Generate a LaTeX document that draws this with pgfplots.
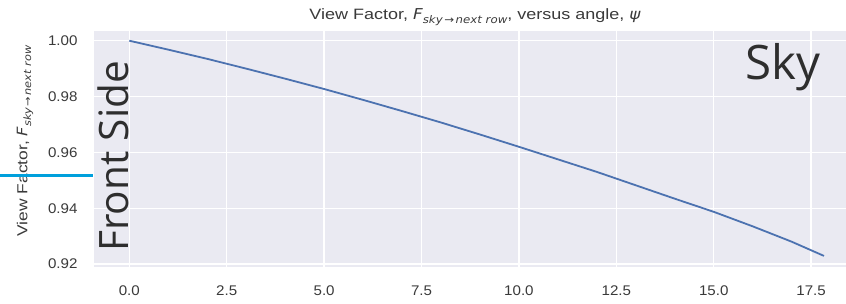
\documentclass[border=0pt]{standalone}
\usepackage{pgfplots}
\pgfplotsset{compat=1.18}
\usepackage{fontspec}
\setmainfont{Liberation Sans}
\newfontfamily\ppt{Open Sans}
\newfontfamily\wide[FakeStretch=1.2]{Liberation Sans}
\newfontfamily\tickf[FakeStretch=1.08]{Liberation Sans}
\newfontfamily\mt[FakeStretch=1.12]{DejaVu Sans}
\definecolor{sbbg}{HTML}{EAEAF2}
\definecolor{sbblue}{HTML}{4C72B0}
\definecolor{txt}{HTML}{3A3A3A}
\definecolor{cyanline}{HTML}{00A0DC}
\definecolor{bigtxt}{HTML}{2E2E2E}
\newcommand{\Fsub}[1]{{\mt\itshape F}\raisebox{-0.25em}{\mt\itshape\fontsize{#1}{#1}\selectfont sky\kern0.15em→\kern0.15em next row}}
\begin{document}
\begin{tikzpicture}[x=1pt,y=1pt]
\begin{axis}[
  at={(0,0)}, anchor=south west,
  scale only axis, width=752pt, height=236pt,
  xmin=-0.906, xmax=18.395, ymin=0.91893, ymax=1.00348,
  axis background/.style={fill=sbbg},
  axis line style={draw=none},
  major tick length=0pt,
  grid=major, major grid style={white, line width=1.3pt},
  xtick={0,2.5,5,7.5,10,12.5,15,17.5},
  ytick={0.92,0.94,0.96,0.98,1.00},
  xticklabel style={/pgf/number format/fixed, /pgf/number format/fixed zerofill, /pgf/number format/precision=1, yshift=-15pt},
  yticklabel style={/pgf/number format/fixed, /pgf/number format/fixed zerofill, /pgf/number format/precision=2, xshift=-13pt},
  /pgf/number format/assume math mode=true,
  tick label style={font=\tickf\fontsize{14}{16}\selectfont, text=txt},
  scaled y ticks=false, scaled x ticks=false,
  clip=false,
]
\addplot[sbblue, line width=1.8pt, line join=round] coordinates {
(0,1.0000) (1,0.9968) (2,0.9935) (3,0.9900) (4,0.9864) (5,0.9827)
(6,0.9788) (7,0.9748) (8,0.9707) (9,0.9664) (10,0.9620) (11,0.9575)
(12,0.9530) (13,0.9482) (14,0.9434) (15,0.9387) (16,0.9335) (17,0.9280)
(17.83,0.9229)
};
\end{axis}
% title
\node[anchor=base, text=txt, font=\wide\fontsize{15}{17}\selectfont] at (381,247)
  {View Factor, \Fsub{10.5}, versus angle, {\mt\itshape ψ}};
% y label
\node[rotate=90, anchor=center, text=txt, font=\wide\fontsize{14.5}{16}\selectfont] at (-69,126)
  {View Factor, \Fsub{10.1}};
% overlay annotations
\node[anchor=base, text=bigtxt, font=\ppt\fontsize{47.5}{50}\selectfont, inner sep=0pt] at (689,187) {Sky};
\node[rotate=90, anchor=base, text=bigtxt, font=\ppt\fontsize{40.5}{44}\selectfont, inner sep=0pt] at (34,110.5) {Front Side};
\draw[cyanline, line width=3pt] (-94,92) -- (-1.3,92);
\pgfresetboundingbox
\path[use as bounding box] (-94,-36) rectangle (752,267);
\end{tikzpicture}
\end{document}
